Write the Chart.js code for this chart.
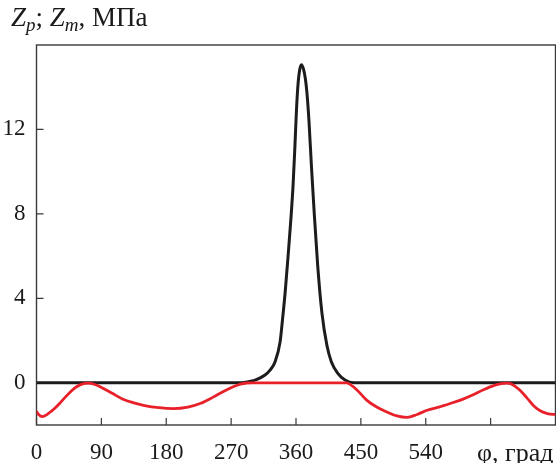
<!DOCTYPE html>
<html>
<head>
<meta charset="utf-8">
<script src="https://cdn.jsdelivr.net/npm/chart.js@4/dist/chart.umd.min.js"></script>
<style>
  html, body { margin: 0; padding: 0; background: #fff; }
  #wrap { width: 556px; height: 463px; }
</style>
</head>
<body>
<div id="wrap"><canvas id="c"></canvas></div>
<script>
// angle, deg
const redAngles = [0, 3, 8, 14, 20, 25, 32, 40, 48, 55, 64, 72, 80, 90, 105, 120, 135, 150, 170, 190, 210, 228, 245, 260, 272, 283, 292, 300,
  430, 436, 445, 458, 472, 486, 500, 514, 528, 542, 558, 574, 590, 605, 620, 635, 645, 652, 660, 670, 680, 690, 700, 710, 720];
const redValues = [-1.35, -1.5, -1.6, -1.52, -1.36, -1.22, -0.98, -0.68, -0.4, -0.2, -0.05, -0.02, -0.07, -0.22, -0.5, -0.78, -0.95, -1.08, -1.18, -1.22, -1.15, -0.97, -0.68, -0.4, -0.2, -0.06, -0.01, 0,
  0, -0.1, -0.35, -0.82, -1.15, -1.38, -1.57, -1.64, -1.5, -1.3, -1.15, -0.98, -0.8, -0.58, -0.33, -0.12, -0.04, -0.02, -0.08, -0.33, -0.7, -1.1, -1.35, -1.47, -1.5];

const blackAngles = [0, 285, 294, 305, 317, 324, 331, 338, 341, 345, 349, 353, 356, 358.5, 360.5, 362.5, 365, 367.5, 370.5, 373, 375, 378, 381.5, 385, 390, 396, 403, 409, 418, 428, 440, 720];
const blackValues = [0, 0, 0.05, 0.15, 0.37, 0.6, 1.0, 1.95, 2.9, 4.3, 6.0, 7.8, 9.4, 11.2, 12.8, 14.0, 14.8, 15.07, 14.85, 14.4, 13.8, 12.4, 10.2, 8.2, 5.6, 3.3, 1.75, 1.0, 0.45, 0.13, 0, 0];

const xTicks = [0, 90, 180, 270, 360, 450, 540, 630];
const xTickLabels = ["0", "90", "180", "270", "360", "450", "540", ""];
const yTicks = [0, 4, 8, 12];
const xTitle = "φ, град";

const serif = "'Liberation Serif', 'DejaVu Serif', serif";

const toPoints = (xs, ys) => xs.map((x, i) => ({ x: x, y: ys[i] }));

// frame, inward tick marks, axis captions
const framePlugin = {
  id: "frame",
  beforeDatasetsDraw(chart) {
    const { ctx, chartArea: a, scales } = chart;
    ctx.save();
    ctx.strokeStyle = "#3a3a3a";
    ctx.lineWidth = 1.4;
    ctx.strokeRect(a.left, a.top, a.right - a.left, a.bottom - a.top);
    ctx.lineWidth = 1.2;
    ctx.beginPath();
    xTicks.forEach(v => {
      const px = scales.x.getPixelForValue(v);
      ctx.moveTo(px, a.bottom);
      ctx.lineTo(px, a.bottom - 7);
    });
    yTicks.forEach(v => {
      const py = scales.y.getPixelForValue(v);
      ctx.moveTo(a.left, py);
      ctx.lineTo(a.left + 7, py);
    });
    ctx.stroke();
    ctx.restore();
  },
  afterDraw(chart) {
    const { ctx, chartArea: a } = chart;
    ctx.save();
    ctx.fillStyle = "#1a1a1a";
    ctx.textBaseline = "alphabetic";
    // y caption: Zp; Zm, МПа
    let x = 11;
    const base = 26;
    const parts = [
      ["italic 27px " + serif, "Z", 0],
      ["italic 19px " + serif, "p", 5],
      ["27px " + serif, "; ", 0],
      ["italic 27px " + serif, "Z", 0],
      ["italic 19px " + serif, "m", 5],
      ["27px " + serif, ", МПа", 0]
    ];
    parts.forEach(p => {
      ctx.font = p[0];
      ctx.fillText(p[1], x, base + p[2]);
      x += ctx.measureText(p[1]).width;
    });
    // x caption
    ctx.font = "26px " + serif;
    ctx.textAlign = "right";
    ctx.fillText(xTitle, a.right - 2, 461);
    ctx.restore();
  }
};

new Chart(document.getElementById("c"), {
  type: "line",
  data: {
    datasets: [
      {
        label: "Zm",
        data: toPoints(redAngles, redValues),
        borderColor: "#e8202a",
        borderWidth: 2.8,
        pointRadius: 0,
        cubicInterpolationMode: "monotone",
        fill: false
      },
      {
        label: "Zp",
        data: toPoints(blackAngles, blackValues),
        borderColor: "#1c1c1c",
        borderWidth: 3,
        pointRadius: 0,
        cubicInterpolationMode: "monotone",
        fill: false
      }
    ]
  },
  options: {
    responsive: true,
    maintainAspectRatio: false,
    animation: false,
    layout: { padding: { top: 45, right: 0.5, left: 0, bottom: 0 } },
    plugins: {
      legend: { display: false },
      tooltip: { enabled: false }
    },
    scales: {
      x: {
        type: "linear",
        min: 0,
        max: 720,
        afterBuildTicks: s => { s.ticks = xTicks.map(v => ({ value: v })); },
        afterFit: s => { s.height = 38; },
        grid: { display: false, drawTicks: false },
        border: { display: false },
        ticks: {
          autoSkip: false,
          maxRotation: 0,
          padding: 14,
          color: "#1a1a1a",
          font: { family: serif, size: 23 },
          callback: (v) => xTickLabels[xTicks.indexOf(v)]
        }
      },
      y: {
        min: -2,
        max: 16,
        afterBuildTicks: s => { s.ticks = yTicks.map(v => ({ value: v })); },
        afterFit: s => { s.width = 36.5; },
        grid: { display: false, drawTicks: false },
        border: { display: false },
        ticks: {
          padding: 11,
          color: "#1a1a1a",
          font: { family: serif, size: 23 },
          callback: (v) => String(v)
        }
      }
    }
  },
  plugins: [framePlugin]
});
</script>
</body>
</html>
